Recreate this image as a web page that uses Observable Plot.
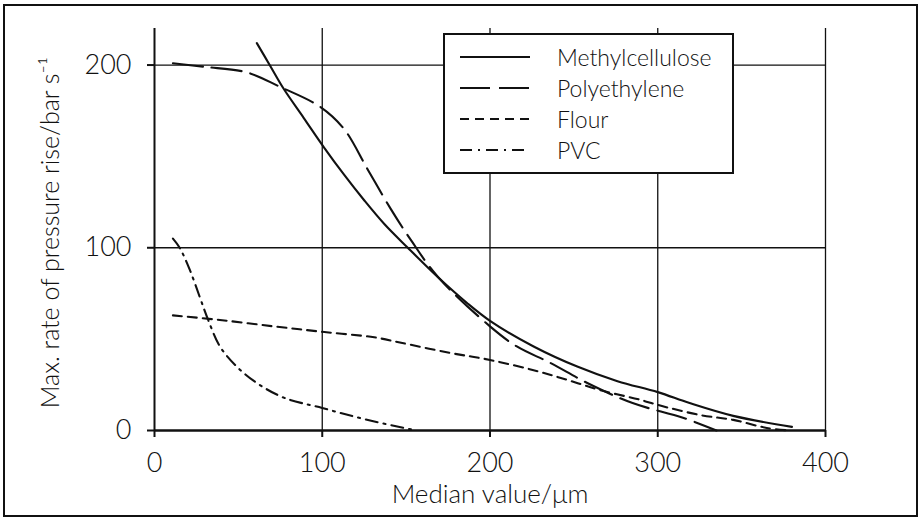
<!DOCTYPE html>
<html><head><meta charset="utf-8">
<script src="https://cdn.jsdelivr.net/npm/d3@7"></script>
<script src="https://cdn.jsdelivr.net/npm/@observablehq/plot@0.6"></script>
<style>
body{margin:0;background:#fff;}
#wrap{position:relative;width:923px;height:520px;overflow:hidden;font-family:Lato,sans-serif;font-weight:300;color:#111;}
#border{position:absolute;left:3px;top:4px;width:915px;height:513px;box-sizing:border-box;border:2px solid #111;pointer-events:none;}
#legend{position:absolute;left:443px;top:33px;width:291px;height:141px;box-sizing:border-box;border:2px solid #111;background:#fff;}
.row{position:absolute;left:0;height:30px;width:100%;}
.row svg{position:absolute;left:15px;top:0;}
.row span{position:absolute;left:112px;top:0;line-height:30px;font-size:23px;}
</style>
</head><body>
<div id="wrap"><div id="chart"></div><div id="legend"></div><div id="border"></div></div>
<script>
const seriesNames = ["Methylcellulose", "Polyethylene", "Flour", "PVC"];
const dashes = [null, "30,9", "9,6", "12,6,2,6"];

const mcX = [61,69,77,89,101,113,125,137,151,170,186,200,226,252,276,300,319,345,380];
const mcY = [212,199.5,187,171,155,140,126,113,100,83,70,60,46,35,27,21,15,8,2];

const peX = [11,30,55,75,99,113,127,141,153,169,200,216,236,258,285,315,335];
const peY = [201,199,196,188,177,165,143,121,104,84,57,46,37,26,15,7,0];

const flX = [11,39,71,100,131,147,176,200,226,246,266,290,300,325,345,365,379];
const flY = [63,60.5,57,54,51,48,42.5,38.6,33,27.7,22,16.7,14,8.5,5.8,1.4,0];

const pvX = [11,15,21,27,32,39,49,61,77,100,126,156];
const pvY = [105,100,88,73,60.5,46,35,26,18,12.3,6,0];

const xTicks = [0,100,200,300,400];
const yTicks = [0,100,200];
const xLabel = "Median value/\u03bcm";
const yLabel = "Max. rate of pressure rise/bar s\u207b\u00b9";

const toRows = (name, xs, ys) => xs.map((x, i) => ({series: name, x, y: ys[i]}));
const allSeries = [
  toRows(seriesNames[0], mcX, mcY),
  toRows(seriesNames[1], peX, peY),
  toRows(seriesNames[2], flX, flY),
  toRows(seriesNames[3], pvX, pvY)
];

const ink = "#111";
const lineMarks = allSeries.map((rows, i) => Plot.line(rows, {
  x: "x", y: "y", stroke: ink, strokeWidth: 2.1, curve: "catmull-rom",
  strokeDasharray: dashes[i] || undefined
}));

const chart = Plot.plot({
  width: 923, height: 520,
  marginLeft: 154, marginRight: 98, marginTop: 28, marginBottom: 90,
  x: {domain: [0, 400]},
  y: {domain: [0, 220]},
  style: {fontFamily: "Lato, sans-serif", fontWeight: 300, background: "transparent", color: ink},
  marks: [
    Plot.gridY([100, 200], {stroke: ink, strokeOpacity: 1, strokeWidth: 1.3}),
    Plot.gridX([100, 200, 300, 400], {stroke: ink, strokeOpacity: 1, strokeWidth: 1.3}),
    Plot.ruleX([0], {stroke: ink, strokeWidth: 2}),
    Plot.ruleY([0], {stroke: ink, strokeWidth: 2.5}),
    Plot.axisX(xTicks, {tickSize: 7, tickPadding: 15, fontSize: 27, strokeWidth: 2, label: null, fill: ink}),
    Plot.axisY(yTicks, {tickSize: 7, tickPadding: 16, fontSize: 27, strokeWidth: 2, label: null, fill: ink}),
    ...lineMarks,
    Plot.text([xLabel], {frameAnchor: "bottom", dy: 64, lineAnchor: "middle", textAnchor: "middle", fontSize: 26, fill: ink}),
    Plot.text([yLabel], {frameAnchor: "left", dx: -104, dy: 3, rotate: -90, lineAnchor: "middle", textAnchor: "middle", fontSize: 25, fill: ink})
  ]
});
document.getElementById("chart").appendChild(chart);

const legend = d3.select("#legend");
seriesNames.forEach((name, i) => {
  const row = legend.append("div").attr("class", "row").style("top", (7 + i * 31) + "px");
  const svg = row.append("svg").attr("width", 72).attr("height", 30);
  const ln = svg.append("line").attr("x1", 0).attr("x2", 70).attr("y1", 15).attr("y2", 15)
    .attr("stroke", ink).attr("stroke-width", 2);
  if (dashes[i]) ln.attr("stroke-dasharray", dashes[i]);
  row.append("span").text(name);
});
</script>
</body></html>
